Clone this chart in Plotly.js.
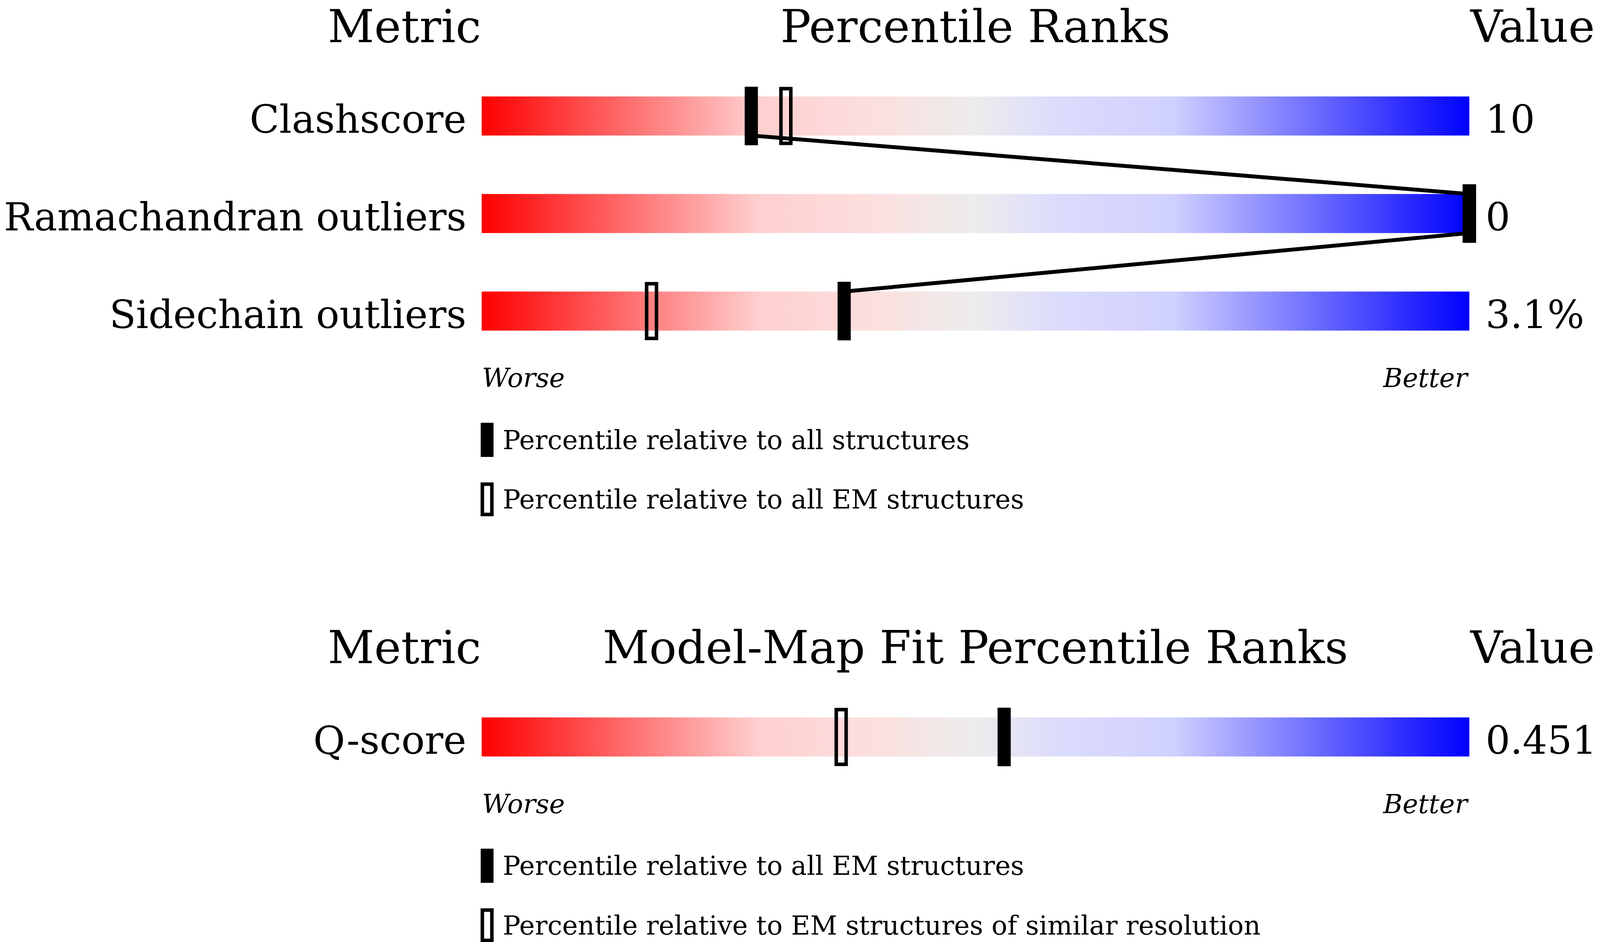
<!DOCTYPE html>
<html>
<head>
<meta charset="utf-8">
<script src="https://cdn.plot.ly/plotly-3.0.1.min.js"></script>
<style>html, body { margin: 0; padding: 0; background: #fff; overflow: hidden; }</style>
</head>
<body>
<div id="plot"></div>
<script>
// geometry quality panel
const qualityMetrics = ["Clashscore", "Ramachandran outliers", "Sidechain outliers"]
const qualityPctAll = [27.3, 100, 36.7]
const qualityPctEm = [30.8, 100, 17.2]
const qualityValues = ["10", "0", "3.1%"]
const qualityLegend = ["Percentile relative to all structures", "Percentile relative to all EM structures"]

// model-map fit panel
const fitMetrics = ["Q-score"]
const fitPctAll = [52.9]
const fitPctSimilar = [36.4]
const fitValues = ["0.451"]
const fitLegend = ["Percentile relative to all EM structures", "Percentile relative to EM structures of similar resolution"]

const FONT = "DejaVu Serif"
const slider = [[0, "#ff0000"], [0.28, "#ffcfcf"], [0.4, "#fcdfdf"], [0.5, "#ececec"], [0.58, "#dcdcfc"], [0.7, "#d0d0ff"], [1, "#0000ff"]]

// designed for 4860 x 2412; fill whatever window we really get
const W = document.documentElement.clientWidth || 4860
const H = document.documentElement.clientHeight || 2412
const k = Math.min(W / 4860, H / 2412)

// sizes in row units (y) and percentile units (x)
const barHalf = 0.2
const markHalfW = 0.667, markHalfH = 0.3
const openHalfW = 0.5, openHalfH = 0.28
const keyW = 1.3, keyHalfH = 0.175

const traces = []
const shapes = []
const annotations = []

function note(text, x, y, yref, size, xanchor) {
  annotations.push({
    text: text, x: x, y: y, xref: "x", yref: yref,
    xanchor: xanchor, yanchor: "middle", showarrow: false, borderpad: 0,
    font: { family: FONT, size: size * k, color: "#000" }
  })
}

function panel(metrics, pctA, pctB, values, legend, heading, yaxis) {
  const yref = yaxis

  note("Metric", 0, -0.92, yref, 138, "right")
  note(heading, 50, -0.92, yref, 138, "center")
  note("Value", 100, -0.92, yref, 136, "left")

  metrics.forEach((m, i) => {
    traces.push({
      type: "scatter", mode: "lines", yaxis: yaxis,
      x: [0, 100, 100, 0, 0],
      y: [i - barHalf, i - barHalf, i + barHalf, i + barHalf, i - barHalf],
      fill: "toself",
      fillgradient: { type: "horizontal", colorscale: slider },
      line: { width: 0 },
      hoverinfo: "skip", showlegend: false
    })
    note(m, -1.5, i + 0.034, yref, 118, "right")
    note(values[i], 101.6, i + 0.034, yref, 118, "left")
  })

  // connector through the "all" markers: bottom edge of one bar to top edge of the next
  const lx = [], ly = []
  pctA.forEach((p, i) => {
    if (i > 0) { lx.push(p); ly.push(i - barHalf) }
    if (i < pctA.length - 1) { lx.push(p); ly.push(i + barHalf) }
  })
  if (lx.length > 1) {
    traces.push({
      type: "scatter", mode: "lines", yaxis: yaxis, x: lx, y: ly,
      line: { color: "#000", width: 10 }, hoverinfo: "skip", showlegend: false
    })
  }

  pctB.forEach((p, i) => {
    shapes.push({
      type: "rect", xref: "x", yref: yref, layer: "above",
      x0: p - openHalfW, x1: p + openHalfW, y0: i - openHalfH, y1: i + openHalfH,
      line: { color: "#000", width: 9 }, fillcolor: "rgba(0,0,0,0)"
    })
  })
  pctA.forEach((p, i) => {
    shapes.push({
      type: "rect", xref: "x", yref: yref, layer: "above",
      x0: p - markHalfW, x1: p + markHalfW, y0: i - markHalfH, y1: i + markHalfH,
      line: { width: 0 }, fillcolor: "#000"
    })
  })

  const last = metrics.length - 1
  note("<i>Worse</i>", 0, last + 0.686, yref, 80, "left")
  note("<i>Better</i>", 100, last + 0.686, yref, 80, "right")

  const keyY = [last + 1.32, last + 1.93]
  shapes.push({
    type: "rect", xref: "x", yref: yref, layer: "above",
    x0: -0.1, x1: -0.1 + keyW, y0: keyY[0] - keyHalfH, y1: keyY[0] + keyHalfH,
    line: { width: 0 }, fillcolor: "#000"
  })
  shapes.push({
    type: "rect", xref: "x", yref: yref, layer: "above",
    x0: -0.1 + 0.167, x1: -0.1 + keyW - 0.167, y0: keyY[1] - keyHalfH + 0.02, y1: keyY[1] + keyHalfH - 0.02,
    line: { color: "#000", width: 9 }, fillcolor: "rgba(0,0,0,0)"
  })
  note(legend[0], 2.1, keyY[0], yref, 80, "left")
  note(legend[1], 2.1, keyY[1], yref, 80, "left")
}

panel(qualityMetrics, qualityPctAll, qualityPctEm, qualityValues, qualityLegend, "Percentile Ranks", "y")
panel(fitMetrics, fitPctAll, fitPctSimilar, fitValues, fitLegend, "Model-Map Fit Percentile Ranks", "y2")

const layout = {
  width: W,
  height: H,
  margin: { l: 0, r: 0, t: 0, b: 0, pad: 0 },
  paper_bgcolor: "#fff",
  plot_bgcolor: "#fff",
  showlegend: false,
  xaxis: { range: [-48.77, 113.23], visible: false, fixedrange: true },
  yaxis: { range: [8.468, -1.189], visible: false, fixedrange: true },
  yaxis2: { range: [2.102, -7.556], overlaying: "y", visible: false, fixedrange: true },
  shapes: shapes,
  annotations: annotations
}

const el = document.getElementById("plot")
el.style.width = W + "px"
el.style.height = H + "px"
Plotly.newPlot(el, traces, layout, { displayModeBar: false, staticPlot: true })
</script>
</body>
</html>
